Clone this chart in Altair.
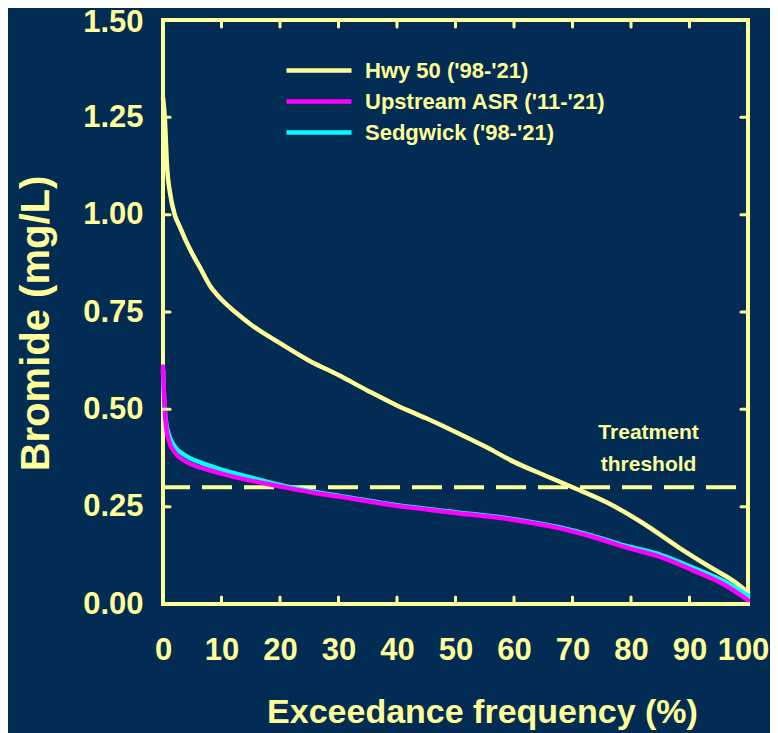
import altair as alt
import pandas as pd

# ---------------- data ----------------
hwy_x = [0, 0.3, 0.7, 1.2, 2, 2.9, 4, 5, 6.3, 8, 10, 12.5, 15, 20, 25, 30, 35, 40, 45, 50,
         55, 60, 65, 70, 76, 82, 88, 93.5, 98, 100]
hwy_y = [1.30, 1.25, 1.12, 1.056, 1.00, 0.968, 0.93, 0.90, 0.865, 0.818, 0.782, 0.748,
         0.718, 0.67, 0.625, 0.588, 0.548, 0.51, 0.477, 0.442, 0.405, 0.365, 0.332, 0.30,
         0.26, 0.208, 0.147, 0.095, 0.054, 0.03]

asr_x = [0, 0.2, 0.5, 1, 2, 4, 6.5, 10, 15, 20, 26, 30, 40, 50, 60, 67.7, 73.5, 79,
         85, 90.5, 96, 100]
asr_y = [0.61, 0.53, 0.46, 0.42, 0.39, 0.365, 0.35, 0.335, 0.317, 0.302, 0.285,
         0.276, 0.252, 0.234, 0.216, 0.195, 0.172, 0.146, 0.121, 0.087, 0.049, 0.01]

sed_x = [0, 0.2, 0.5, 1, 2, 4, 6.5, 10, 15, 20, 26, 30, 40, 50, 60, 67.7, 73.5, 79,
         85, 90.5, 96, 100]
sed_y = [0.60, 0.52, 0.47, 0.435, 0.405, 0.38, 0.363, 0.345, 0.325, 0.306, 0.288,
         0.278, 0.254, 0.236, 0.218, 0.197, 0.175, 0.15, 0.127, 0.094, 0.058, 0.022]

series_names = ["Hwy 50 ('98-'21)", "Upstream ASR ('11-'21)", "Sedgwick ('98-'21)"]
series_colors = ["#ffff99", "#ff00ff", "#00ffff"]

x_tick_values = [0, 10, 20, 30, 40, 50, 60, 70, 80, 90, 100]
y_tick_values = [0.0, 0.25, 0.5, 0.75, 1.0, 1.25, 1.5]
threshold = 0.30
threshold_label = "Treatment\nthreshold"

# ---------------- styling ----------------
NAVY = "#022c53"
YEL = "#ffff99"
FONT = "Liberation Sans"

# draw order: Hwy 50, Sedgwick, then Upstream ASR on top
rows = []
for x, y in zip(hwy_x, hwy_y):
    rows.append({"x": x, "y": y, "series": series_names[0]})
for x, y in zip(sed_x, sed_y):
    rows.append({"x": x, "y": y, "series": series_names[2]})
for x, y in zip(asr_x, asr_y):
    rows.append({"x": x, "y": y, "series": series_names[1]})
df = pd.DataFrame(rows)

xs = alt.Scale(domain=[0, 100], nice=False, zero=False)
ys = alt.Scale(domain=[0, 1.5], nice=False, zero=False)

lines = alt.Chart(df).mark_line(strokeWidth=4.5, strokeCap="round", strokeJoin="round",
                                interpolate="monotone").encode(
    x=alt.X("x:Q", scale=xs,
            axis=alt.Axis(values=x_tick_values, title="Exceedance frequency (%)",
                          labelFontSize=31, labelPadding=31, ticks=False, domain=False,
                          grid=False, labelOverlap=False, labelFlush=False,
                          labelOffset={"condition": {"test": "datum.value >= 100", "value": -5},
                                       "value": 0},
                          titleFontSize=34, titleX=319, titleY=108,
                          titleBaseline="middle", titleAlign="center")),
    y=alt.Y("y:Q", scale=ys,
            axis=alt.Axis(values=y_tick_values, format=".2f", title="Bromide (mg/L)",
                          labelFontSize=31, labelPadding=20, ticks=False, domain=False,
                          grid=False, labelOverlap=False, labelFlush=False,
                          labelOffset={"condition": {"test": "datum.value >= 1.5", "value": 2},
                                       "value": 0},
                          titleFontSize=40, titleAngle=270, titleX=-127,
                          titleY=303, titleBaseline="middle", titleAlign="center")),
    color=alt.Color("series:N",
                    scale=alt.Scale(domain=series_names, range=series_colors),
                    legend=alt.Legend(orient="none", legendX=121, legendY=35,
                                      title=None, symbolType="stroke", symbolSize=4225,
                                      symbolStrokeWidth=4.5, clipHeight=31, rowPadding=0,
                                      labelFontSize=22, labelFont=FONT, labelLimit=400,
                                      labelFontWeight="bold", labelColor=YEL,
                                      labelOffset=11, padding=0)),
    detail="series:N",
)

# inward tick marks on all four sides
tick_len_x = 1.2    # in % units
tick_len_y = 0.018  # in mg/L units
inner_x = [v for v in x_tick_values if 0 < v < 100]
inner_y = [v for v in y_tick_values if 0 < v < 1.5]
tick_rows = []
for v in inner_x:
    tick_rows.append({"x": v, "x2": v, "y": 0, "y2": tick_len_y})
    tick_rows.append({"x": v, "x2": v, "y": 1.5 - tick_len_y, "y2": 1.5})
for v in inner_y:
    tick_rows.append({"x": 0, "x2": tick_len_x, "y": v, "y2": v})
    tick_rows.append({"x": 100 - tick_len_x, "x2": 100, "y": v, "y2": v})
ticks = alt.Chart(pd.DataFrame(tick_rows)).mark_rule(
    color=YEL, strokeWidth=3, strokeCap="round").encode(
    x=alt.X("x:Q", scale=xs), x2="x2:Q",
    y=alt.Y("y:Q", scale=ys), y2="y2:Q")

thr = alt.Chart(pd.DataFrame({"x": [0], "x2": [100], "y": [threshold]})).mark_rule(
    color=YEL, strokeWidth=4, strokeDash=[30, 12], strokeDashOffset=3).encode(
    x=alt.X("x:Q", scale=xs), x2="x2:Q", y=alt.Y("y:Q", scale=ys))

thr_text = alt.Chart(pd.DataFrame({"x": [83], "y": [0.439], "t": [threshold_label]})).mark_text(
    lineBreak="\n", color=YEL, font=FONT, fontWeight="bold", fontSize=21,
    lineHeight=32, align="center", baseline="middle").encode(
    x=alt.X("x:Q", scale=xs), y=alt.Y("y:Q", scale=ys), text="t:N")

chart = alt.layer(thr, lines, ticks, thr_text).properties(
    width=585, height=584,
    padding={"left": 155, "top": 12, "right": 22, "bottom": 129},
    autosize=alt.AutoSizeParams(type="none"),
    background=NAVY,
).configure_view(
    stroke=YEL, strokeWidth=4
).configure_axis(
    labelFont=FONT, titleFont=FONT, labelFontWeight="bold", titleFontWeight="bold",
    labelColor=YEL, titleColor=YEL
)

chart.save("out.html", embed_options={"renderer": "svg", "actions": False})
